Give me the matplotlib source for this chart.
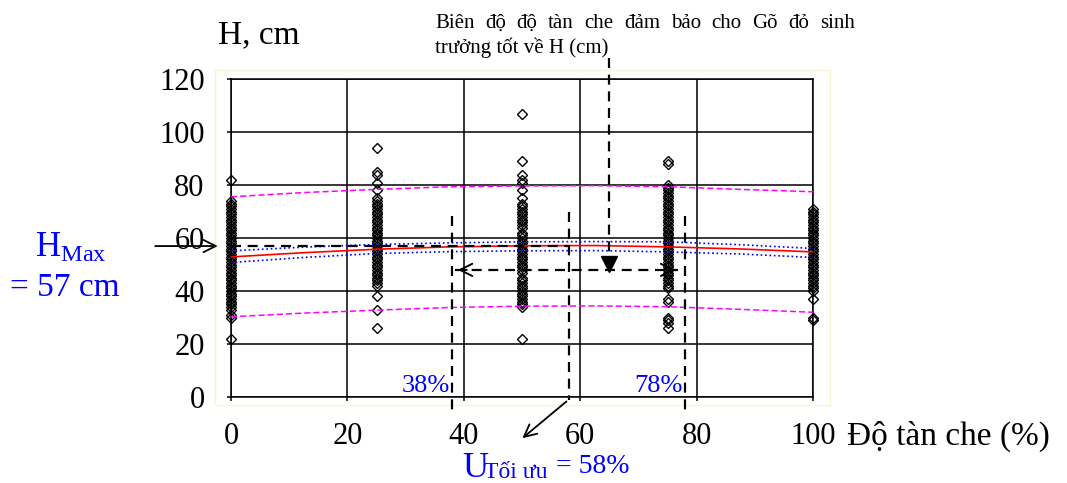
import matplotlib
matplotlib.use('Agg')
import matplotlib.pyplot as plt
from matplotlib.patches import Rectangle

plt.rcParams['font.family'] = ['Liberation Serif', 'DejaVu Serif']
plt.rcParams['mathtext.fontset'] = 'custom'
plt.rcParams['mathtext.rm'] = 'Liberation Serif'

# crown cover classes (%) and measured heights H (cm)
cover_levels = [0, 25, 50, 75, 100]
h_cover_0 = [82, 74, 73, 72, 71, 70, 69, 68, 67, 66, 65, 64, 63, 62, 61, 60, 59, 58,
             57, 56, 55, 54, 53, 52, 51, 50, 49, 48, 47, 46, 45, 44, 43, 42, 41, 40,
             39, 38, 37, 36, 35, 34, 33, 31, 30, 22]
h_cover_25 = [94, 85, 84, 81, 78, 75, 74, 73, 72, 71, 70, 69, 68, 67, 66, 65, 64, 63,
              62, 61, 60, 59, 58, 57, 56, 55, 54, 53, 52, 51, 50, 49, 48, 47, 46, 45,
              44, 43, 42, 38, 33, 26]
h_cover_50 = [107, 89, 84, 82, 81, 78, 75, 73, 72, 71, 70, 69, 68, 67, 66, 65, 64, 62,
              61, 60, 59, 58, 57, 56, 55, 54, 53, 52, 51, 50, 49, 48, 47, 45, 44, 43,
              42, 41, 40, 39, 38, 37, 36, 35, 34, 22]
h_cover_75 = [89, 88, 80, 79, 78, 77, 76, 75, 74, 73, 72, 71, 70, 69, 68, 67, 66, 65,
              64, 63, 62, 61, 60, 59, 58, 57, 56, 55, 54, 53, 52, 51, 50, 49, 48, 47,
              46, 45, 44, 43, 42, 41, 37, 36, 30, 29, 28, 26]
h_cover_100 = [71, 70, 69, 68, 67, 66, 65, 64, 63, 62, 61, 60, 59, 58, 57, 56, 55, 54,
               53, 52, 51, 50, 49, 48, 47, 46, 45, 44, 43, 42, 41, 40, 37, 30, 29]
heights = [h_cover_0, h_cover_25, h_cover_50, h_cover_75, h_cover_100]

# fitted curve with confidence and prediction bands
fit_x = [0, 12.5, 25, 37.5, 50, 62.5, 75, 87.5, 100]
fit_mean = [52.9, 54.5, 55.8, 56.7, 57.1, 57.2, 56.7, 55.9, 54.8]
conf_upper = [55.2, 56.6, 57.6, 58.2, 58.6, 58.7, 58.6, 57.5, 56.1]
conf_lower = [50.8, 52.7, 54.2, 54.9, 55.2, 55.3, 54.8, 54.0, 52.7]
pred_upper = [75.6, 77.2, 78.4, 79.4, 79.7, 79.8, 79.4, 78.4, 77.5]
pred_lower = [30.3, 31.7, 32.8, 33.8, 34.3, 34.4, 34.1, 33.1, 32.0]

h_max = 57
u_low, u_opt, u_high = 38, 58, 78
range_y = 48
pointer_x = 65

x_ticks = [0, 20, 40, 60, 80, 100]
y_ticks = [0, 20, 40, 60, 80, 100, 120]

W, H = 1067, 483


def px(x, y):
    return x / W, 1 - y / H


def justified_line(fig, words, x0, x1, y, size):
    renderer = fig.canvas.get_renderer()
    texts = [fig.text(0, y, w, fontsize=size, va='baseline') for w in words]
    widths = [t.get_window_extent(renderer).width for t in texts]
    gap = ((x1 - x0) * W - sum(widths)) / (len(words) - 1)
    pos = x0 * W
    for t, w in zip(texts, widths):
        t.set_x(pos / W)
        pos += w + gap


fig = plt.figure(figsize=(10.67, 4.83), dpi=100)
ax = fig.add_axes([0.2165, 0.178, 0.5455, 0.658])

ax.set_xlim(0, 100)
ax.set_ylim(0, 120)
ax.set_xticks(x_ticks)
ax.set_yticks(y_ticks)
ax.grid(True, color='black', lw=1.1)
ax.set_axisbelow(True)
for s in ax.spines.values():
    s.set_linewidth(1.1)
ax.tick_params(labelsize=22, length=3, width=1.1, pad=15)
ax.tick_params(axis='y', pad=16)

ax.add_patch(Rectangle((-0.0275, -0.025), 1.057, 1.053, transform=ax.transAxes,
                       fill=False, ec='#f8f4d0', lw=1, clip_on=False, zorder=0))

for x, hs in zip(cover_levels, heights):
    ax.plot([x] * len(hs), hs, 'D', ms=5.5, mfc='none', mec='black', mew=1.0,
            clip_on=False, zorder=3)

ax.plot(fit_x, pred_upper, color='magenta', ls=(0, (4, 2)), lw=1.1, zorder=4)
ax.plot(fit_x, pred_lower, color='magenta', ls=(0, (4, 2)), lw=1.1, zorder=4)
ax.plot(fit_x, conf_upper, color='blue', ls=':', lw=1.2, zorder=4)
ax.plot(fit_x, conf_lower, color='blue', ls=':', lw=1.2, zorder=4)
ax.plot(fit_x, fit_mean, color='red', lw=1.2, zorder=4)

dash = dict(color='black', ls=(0, (4.5, 3)), lw=1.6, clip_on=False, zorder=5)
ax.plot([0, u_opt], [h_max, h_max], **dash)
ax.plot([u_low, u_low], [68.5, -6.5], **dash)
ax.plot([u_high, u_high], [68.5, -6.5], **dash)
ax.plot([u_opt, u_opt], [70, -1], **dash)
ax.plot([u_low + 0.5, u_high - 1.2], [range_y, range_y], **dash)
ax.plot([pointer_x, pointer_x], [128, 53], **dash)
ax.plot([pointer_x], [50.4], 'v', ms=11, color='black', clip_on=False, zorder=6)

head = dict(arrowstyle='->', lw=1.4, color='black', mutation_scale=22)
ax.annotate('', xy=(u_low + 0.5, range_y), xytext=(u_low + 3, range_y),
            arrowprops=head, annotation_clip=False)
ax.annotate('', xy=(u_high - 1.2, range_y), xytext=(u_high - 3.5, range_y),
            arrowprops=head, annotation_clip=False)
ax.annotate('', xy=(-1.8, h_max), xytext=(-13.5, h_max),
            arrowprops=dict(arrowstyle='->', lw=1.3, color='black', mutation_scale=22),
            annotation_clip=False)
ax.annotate('', xy=(49.7, -16.2), xytext=(u_opt, -1),
            arrowprops=dict(arrowstyle='->', lw=1.3, color='black', mutation_scale=22),
            annotation_clip=False)

ax.text(u_low - 0.4, 2, f'{u_low}%', ha='right', va='baseline', fontsize=19,
        color='blue', zorder=6)
ax.text(u_high - 0.4, 2, f'{u_high}%', ha='right', va='baseline', fontsize=19,
        color='blue', zorder=6)

fig.text(*px(218, 43), 'H, cm', fontsize=24, va='baseline')
fig.text(*px(847, 445), 'Độ tàn che (%)', fontsize=24, va='baseline')

fig.text(*px(35, 257), r'$\mathrm{H_{Max}}$', fontsize=25, va='baseline', color='blue')
fig.text(*px(10, 296), f'= {h_max} cm', fontsize=24, va='baseline', color='blue')

fig.text(*px(462, 477), 'U', fontsize=26, va='baseline', color='blue')
fig.text(*px(484, 478), 'Tối ưu', fontsize=17, va='baseline', color='blue')
fig.text(*px(556, 473), f'= {u_opt}%', fontsize=20, va='baseline', color='blue')

line1 = 'Biên độ độ tàn che đảm bảo cho Gõ đỏ sinh'.split()
justified_line(fig, line1, 435 / W, 855 / W, 1 - 28 / H, 15)
fig.text(*px(435, 53), 'trưởng tốt về H (cm)', fontsize=15, va='baseline')

fig.savefig('out.png', dpi=100)
